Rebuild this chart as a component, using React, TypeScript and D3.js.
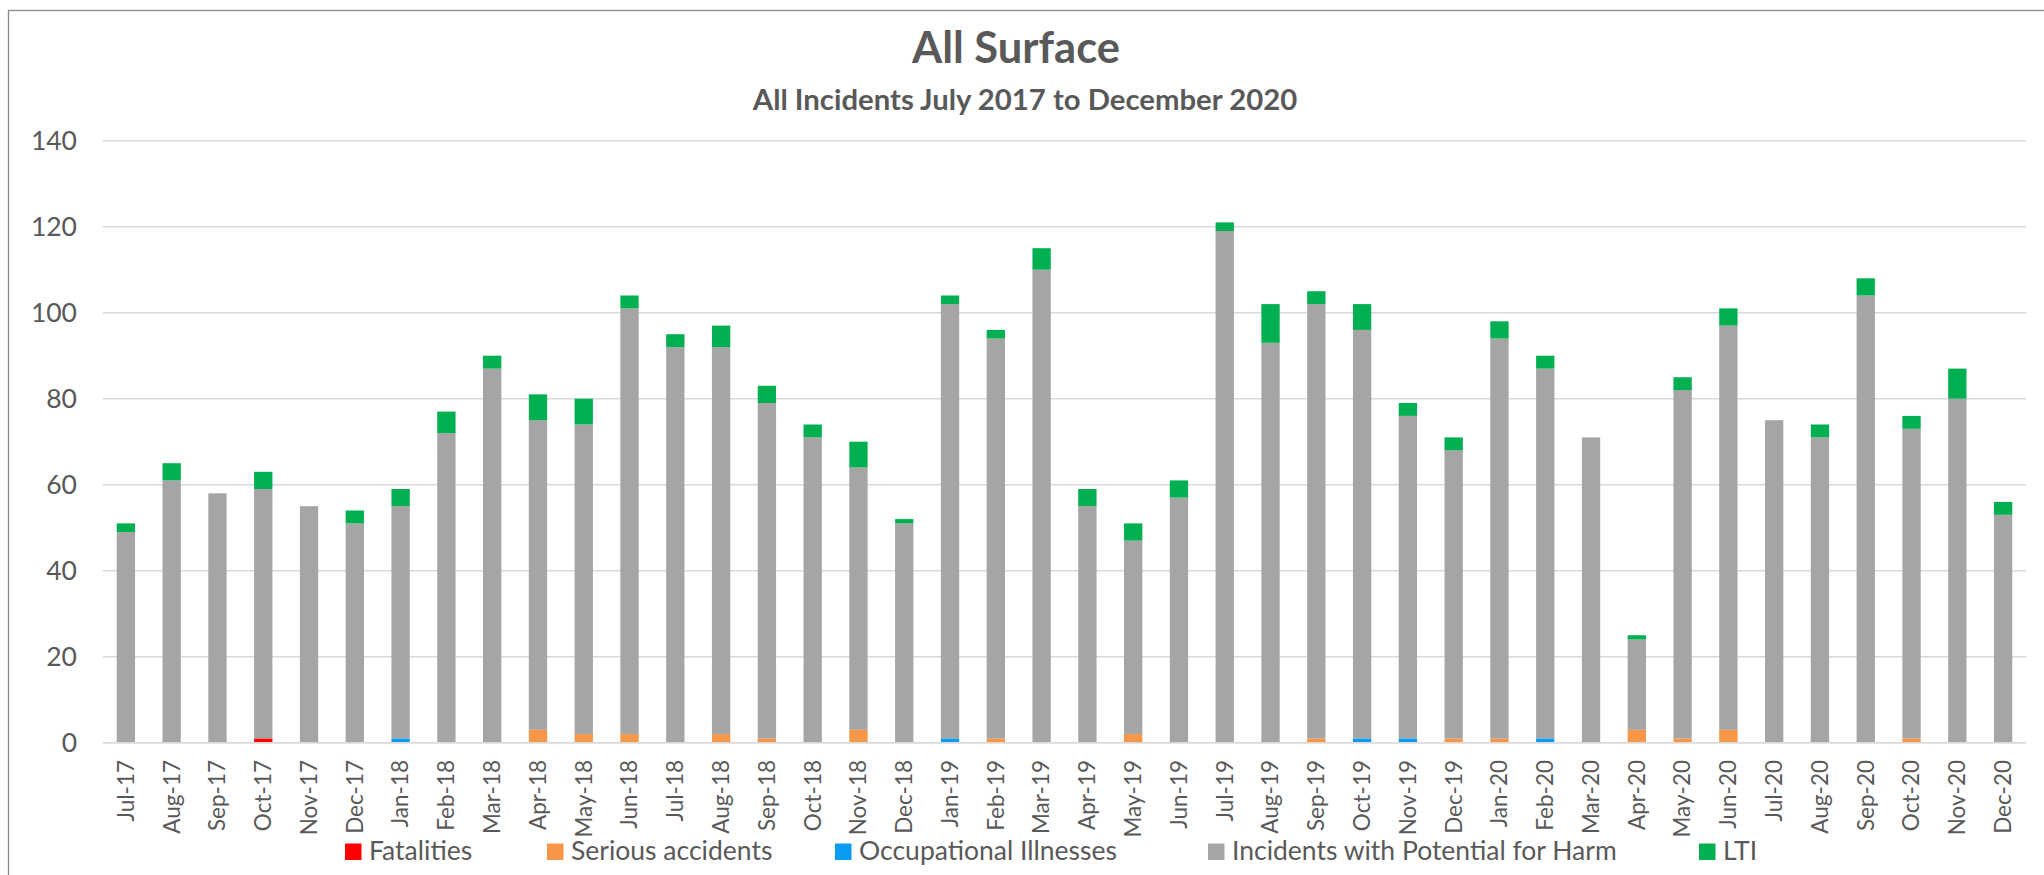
import React from "react";
import * as d3 from "d3";

const months = [
  "Jul-17", "Aug-17", "Sep-17", "Oct-17", "Nov-17", "Dec-17",
  "Jan-18", "Feb-18", "Mar-18", "Apr-18", "May-18", "Jun-18",
  "Jul-18", "Aug-18", "Sep-18", "Oct-18", "Nov-18", "Dec-18",
  "Jan-19", "Feb-19", "Mar-19", "Apr-19", "May-19", "Jun-19",
  "Jul-19", "Aug-19", "Sep-19", "Oct-19", "Nov-19", "Dec-19",
  "Jan-20", "Feb-20", "Mar-20", "Apr-20", "May-20", "Jun-20",
  "Jul-20", "Aug-20", "Sep-20", "Oct-20", "Nov-20", "Dec-20",
];

const fatalities = [
  0, 0, 0, 1, 0, 0, 0, 0, 0, 0, 0, 0, 0, 0, 0, 0, 0, 0, 0, 0, 0,
  0, 0, 0, 0, 0, 0, 0, 0, 0, 0, 0, 0, 0, 0, 0, 0, 0, 0, 0, 0, 0,
];
const seriousAccidents = [
  0, 0, 0, 0, 0, 0, 0, 0, 0, 3, 2, 2, 0, 2, 1, 0, 3, 0, 0, 1, 0,
  0, 2, 0, 0, 0, 1, 0, 0, 1, 1, 0, 0, 3, 1, 3, 0, 0, 0, 1, 0, 0,
];
const occupationalIllnesses = [
  0, 0, 0, 0, 0, 0, 1, 0, 0, 0, 0, 0, 0, 0, 0, 0, 0, 0, 1, 0, 0,
  0, 0, 0, 0, 0, 0, 1, 1, 0, 0, 1, 0, 0, 0, 0, 0, 0, 0, 0, 0, 0,
];
const potentialForHarm = [
  49, 61, 58, 58, 55, 51, 54, 72, 87, 72, 72, 99, 92, 90, 78, 71, 61, 51, 101, 93, 110,
  55, 45, 57, 119, 93, 101, 95, 75, 67, 93, 86, 71, 21, 81, 94, 75, 71, 104, 72, 80, 53,
];
const lti = [
  2, 4, 0, 4, 0, 3, 4, 5, 3, 6, 6, 3, 3, 5, 4, 3, 6, 1, 2, 2, 5,
  4, 4, 4, 2, 9, 3, 6, 3, 3, 4, 3, 0, 1, 3, 4, 0, 3, 4, 3, 7, 3,
];

const seriesNames = [
  "Fatalities",
  "Serious accidents",
  "Occupational Illnesses",
  "Incidents with Potential for Harm",
  "LTI",
];
const seriesColors = ["#FF0000", "#F79646", "#0A9BF5", "#A5A5A5", "#00B050"];
const yTicks = [0, 20, 40, 60, 80, 100, 120, 140];

const W = 2044;
const H = 875;
const plotLeft = 103;
const plotRight = 2026;
const plotTop = 140.7;
const plotBottom = 742.7;
const legendX = [345, 547, 835, 1208, 1699];
const FONT = "Lato, 'Open Sans', sans-serif";
const TEXT = "#595959";

export default function App() {
  const seriesValues = [fatalities, seriousAccidents, occupationalIllnesses, potentialForHarm, lti];
  const rows = months.map((m, i) => {
    const r: Record<string, any> = { month: m };
    seriesNames.forEach((s, k) => (r[s] = seriesValues[k][i]));
    return r;
  });
  const stack = d3.stack<any>().keys(seriesNames)(rows);

  const x = d3
    .scaleBand<string>()
    .domain(months)
    .range([plotLeft, plotRight])
    .paddingInner(0.6)
    .paddingOuter(0.3);
  const y = d3.scaleLinear().domain([0, 140]).range([plotBottom, plotTop]);

  return (
    <svg
      width={W}
      height={H}
      style={{ position: "absolute", left: 0, top: 0, background: "#fff" }}
      fontFamily={FONT}
    >
      <rect x={0} y={0} width={W} height={H} fill="#fff" />
      <rect x={8.5} y={10.5} width={W + 20} height={H + 20} fill="none" stroke="#8a8a8a" strokeWidth={1.3} />
      <text x={1016} y={63} textAnchor="middle" fontSize={43.5} fontWeight={700} fill={TEXT}>
        All Surface
      </text>
      <text x={1025} y={110} textAnchor="middle" fontSize={29.3} fontWeight={700} fill={TEXT}>
        All Incidents July 2017 to December 2020
      </text>
      {yTicks.map((t) => (
        <g key={t}>
          <line
            x1={plotLeft}
            x2={plotRight}
            y1={y(t)}
            y2={y(t)}
            stroke="#D9D9D9"
            strokeWidth={1.5}
          />
          <text x={77} y={y(t)} dy="0.35em" textAnchor="end" fontSize={26.5} fill={TEXT}>
            {t}
          </text>
        </g>
      ))}
      {stack.map((layer, k) => (
        <g key={layer.key} fill={seriesColors[k]}>
          {layer.map((d, i) =>
            d[1] - d[0] > 0 ? (
              <rect
                key={i}
                x={x(months[i])}
                width={x.bandwidth()}
                y={y(d[1])}
                height={y(d[0]) - y(d[1])}
              />
            ) : null
          )}
        </g>
      ))}
      <line x1={plotLeft} x2={plotRight} y1={y(0)} y2={y(0)} stroke="#D9D9D9" strokeWidth={1.5} />
      {months.map((m) => {
        const cx = (x(m) as number) + x.bandwidth() / 2;
        return (
          <text
            key={m}
            transform={`translate(${cx},760) rotate(-90)`}
            dy="0.35em"
            textAnchor="end"
            fontSize={22.5}
            fill={TEXT}
          >
            {m}
          </text>
        );
      })}
      {seriesNames.map((s, k) => (
        <g key={s} transform={`translate(${legendX[k]},843.5)`}>
          <rect x={0} y={0} width={16.5} height={16.5} fill={seriesColors[k]} />
          <text x={24} y={16.5} fontSize={26.5} fill={TEXT}>
            {s}
          </text>
        </g>
      ))}
    </svg>
  );
}
